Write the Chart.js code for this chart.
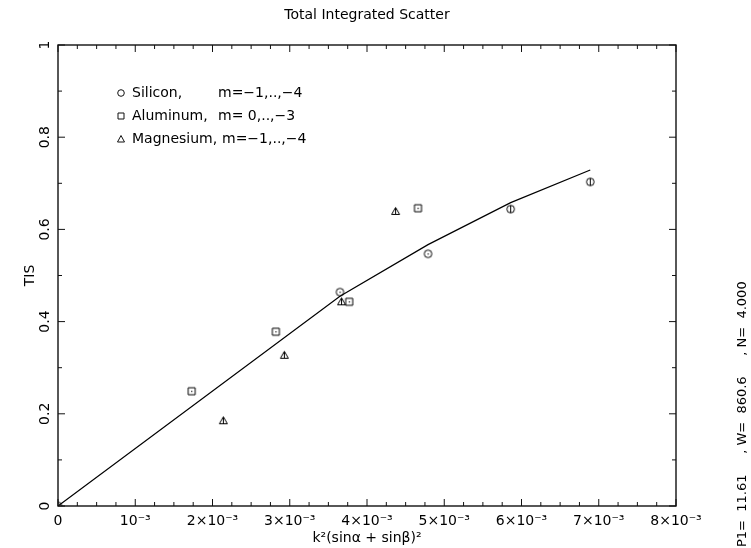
<!DOCTYPE html>
<html>
<head>
<meta charset="utf-8">
<script src="https://cdn.jsdelivr.net/npm/chart.js@4.4.1/dist/chart.umd.min.js"></script>
<style>
  html, body { margin: 0; padding: 0; background: #fff; }
  #wrap { width: 751px; height: 548px; }
</style>
</head>
<body>
<div id="wrap"><canvas id="tisChart" width="751" height="548"></canvas></div>
<script>
// values
const siliconX = [0, 3.65e-3, 4.79e-3, 5.86e-3, 6.89e-3];
const siliconY = [0, 0.464, 0.547, 0.644, 0.703];
const aluminumX = [1.73e-3, 2.82e-3, 3.77e-3, 4.66e-3];
const aluminumY = [0.249, 0.378, 0.443, 0.646];
const magnesiumX = [2.14e-3, 2.93e-3, 3.67e-3, 4.37e-3];
const magnesiumY = [0.185, 0.327, 0.443, 0.639];
const fitX = [0, 3.65e-3, 4.79e-3, 5.86e-3, 6.89e-3];
const fitY = [0, 0.455, 0.567, 0.658, 0.729];

const xTickLabels = ['0', '10\u207B\u00B3', '2\u00D710\u207B\u00B3', '3\u00D710\u207B\u00B3', '4\u00D710\u207B\u00B3',
                     '5\u00D710\u207B\u00B3', '6\u00D710\u207B\u00B3', '7\u00D710\u207B\u00B3', '8\u00D710\u207B\u00B3'];
const yTickLabels = ['0', '0.2', '0.4', '0.6', '0.8', '1'];

const legendNames = ['Silicon,', 'Aluminum,', 'Magnesium,'];
const legendOrders = ['m=\u22121,..,\u22124', 'm= 0,..,\u22123', 'm=\u22121,..,\u22124'];

const FONT = '"DejaVu Sans", sans-serif';

function toPoints(xs, ys) {
    return xs.map((x, i) => ({ x: x, y: ys[i] }));
}

// small marker glyphs: open shape with an inner dot or bar
function makeMarker(shape, inner) {
    const c = document.createElement('canvas');
    c.width = 11;
    c.height = 11;
    const g = c.getContext('2d');
    g.strokeStyle = '#000';
    g.fillStyle = '#000';
    g.lineWidth = 1;
    g.beginPath();
    if (shape === 'circle') {
        g.arc(5.5, 5.5, 3.8, 0, Math.PI * 2);
    } else if (shape === 'square') {
        g.rect(2, 2, 7, 7);
    } else {
        g.moveTo(5.5, 1.5);
        g.lineTo(9.5, 8.5);
        g.lineTo(1.5, 8.5);
        g.closePath();
    }
    g.stroke();
    if (inner === 'dot') {
        g.fillRect(5, 5, 1.2, 1.2);
    } else if (inner === 'bar') {
        g.fillRect(5, 2, 1, 7);
    }
    return c;
}

const circleDot = makeMarker('circle', 'dot');
const circleBar = makeMarker('circle', 'bar');
const squareDot = makeMarker('square', 'dot');
const triangleBar = makeMarker('triangle', 'bar');

function drawMarkerShape(ctx, shape, x, y) {
    ctx.beginPath();
    if (shape === 'circle') {
        ctx.arc(x, y, 3.3, 0, Math.PI * 2);
    } else if (shape === 'square') {
        ctx.rect(x - 3, y - 3, 6, 6);
    } else {
        ctx.moveTo(x, y - 3.5);
        ctx.lineTo(x + 3.5, y + 3);
        ctx.lineTo(x - 3.5, y + 3);
        ctx.closePath();
    }
    ctx.stroke();
}

const framePlugin = {
    id: 'frame',
    afterDraw(chart) {
        const ctx = chart.ctx;
        const a = chart.chartArea;
        const xs = chart.scales.x;
        const ys = chart.scales.y;
        ctx.save();
        ctx.strokeStyle = '#111';
        ctx.lineWidth = 1.4;
        ctx.strokeRect(a.left, a.top, a.right - a.left, a.bottom - a.top);

        // inward tick marks on all four sides
        ctx.lineWidth = 1;
        ctx.beginPath();
        for (let i = 0; i <= 32; i++) {
            const px = xs.getPixelForValue(i * 0.25e-3);
            const len = i % 4 === 0 ? 7 : 4;
            ctx.moveTo(px, a.bottom);
            ctx.lineTo(px, a.bottom - len);
            ctx.moveTo(px, a.top);
            ctx.lineTo(px, a.top + len);
        }
        for (let i = 0; i <= 10; i++) {
            const py = ys.getPixelForValue(i * 0.1);
            const len = i % 2 === 0 ? 7 : 4;
            ctx.moveTo(a.left, py);
            ctx.lineTo(a.left + len, py);
            ctx.moveTo(a.right, py);
            ctx.lineTo(a.right - len, py);
        }
        ctx.stroke();

        // title
        ctx.fillStyle = '#000';
        ctx.font = '14px ' + FONT;
        ctx.textAlign = 'center';
        ctx.textBaseline = 'middle';
        ctx.fillText('Total Integrated Scatter', (a.left + a.right) / 2, 15);

        // legend block
        const shapes = ['circle', 'square', 'triangle'];
        const orderX = [218, 218, 222];
        ctx.textAlign = 'left';
        for (let i = 0; i < 3; i++) {
            const ly = 93 + i * 23;
            drawMarkerShape(ctx, shapes[i], 121, ly);
            ctx.fillText(legendNames[i], 132, ly);
            ctx.fillText(legendOrders[i], orderX[i], ly);
        }

        // fit parameters, rotated along the right edge
        ctx.save();
        ctx.translate(743, 547);
        ctx.rotate(-Math.PI / 2);
        ctx.font = '13px ' + FONT;
        ctx.textAlign = 'left';
        ctx.fillText('P1=  11.61     , W=  860.6     , N=  4.000', 0, 0);
        ctx.restore();
        ctx.restore();
    }
};

const ctx = document.getElementById('tisChart').getContext('2d');
const tisChart = new Chart(ctx, {
    type: 'scatter',
    data: {
        datasets: [{
            type: 'line',
            label: 'fit',
            data: toPoints(fitX, fitY),
            borderColor: '#000',
            borderWidth: 1.2,
            pointRadius: 0,
            tension: 0,
            fill: false
        }, {
            label: 'Silicon',
            data: toPoints(siliconX, siliconY),
            pointStyle: [circleDot, circleDot, circleDot, circleBar, circleBar],
            pointRadius: 4
        }, {
            label: 'Aluminum',
            data: toPoints(aluminumX, aluminumY),
            pointStyle: squareDot,
            pointRadius: 4
        }, {
            label: 'Magnesium',
            data: toPoints(magnesiumX, magnesiumY),
            pointStyle: triangleBar,
            pointRadius: 4
        }]
    },
    options: {
        responsive: false,
        animation: false,
        layout: {
            padding: { top: 45, right: 75, left: 0, bottom: 0 }
        },
        plugins: {
            legend: { display: false },
            tooltip: { enabled: false }
        },
        scales: {
            x: {
                type: 'linear',
                min: 0,
                max: 8e-3,
                grid: { display: false, drawTicks: false },
                border: { display: false },
                ticks: {
                    stepSize: 1e-3,
                    autoSkip: false,
                    maxRotation: 0,
                    padding: 7,
                    color: '#000',
                    font: { family: FONT, size: 14 },
                    callback: function(value) {
                        return xTickLabels[Math.round(value / 1e-3)];
                    }
                },
                title: {
                    display: true,
                    text: 'k\u00B2(sin\u03B1 + sin\u03B2)\u00B2',
                    color: '#000',
                    font: { family: FONT, size: 14 },
                    padding: { top: 0, bottom: 1 }
                },
                afterFit: function(scale) {
                    scale.height = 42;
                }
            },
            y: {
                type: 'linear',
                min: 0,
                max: 1,
                grid: { display: false, drawTicks: false },
                border: { display: false },
                ticks: {
                    stepSize: 0.2,
                    autoSkip: false,
                    minRotation: 90,
                    maxRotation: 90,
                    crossAlign: 'center',
                    padding: 2,
                    color: '#000',
                    font: { family: FONT, size: 14 },
                    callback: function(value) {
                        return yTickLabels[Math.round(value / 0.2)];
                    }
                },
                title: {
                    display: true,
                    text: 'TIS',
                    color: '#000',
                    font: { family: FONT, size: 14 },
                    padding: { top: 22, bottom: 0 }
                },
                afterFit: function(scale) {
                    scale.width = 58;
                }
            }
        }
    },
    plugins: [framePlugin]
});
</script>
</body>
</html>
